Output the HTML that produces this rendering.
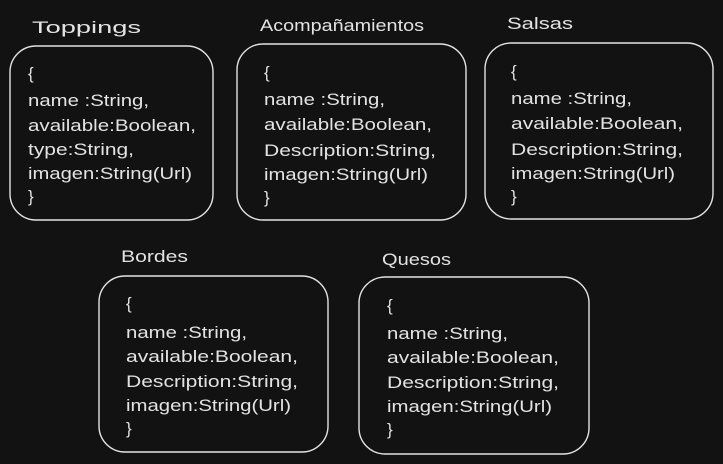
<!DOCTYPE html>
<html><head><meta charset="utf-8"><style>
html,body{margin:0;padding:0;background:#121212;}
svg{display:block}
text{font-family:"Liberation Sans",sans-serif;font-size:17px;fill:#e3e3e3;}
rect{fill:none;stroke:#e3e3e3;stroke-width:1.4;}
</style></head><body>
<svg width="723" height="464" viewBox="0 0 723 464">
<rect width="723" height="464" style="fill:#121212;stroke:none"/>
<!-- Toppings -->
<text x="32" y="33" textLength="109" lengthAdjust="spacingAndGlyphs">Toppings</text>
<rect x="10" y="46" width="203" height="174" rx="26"/>
<text x="28" y="79">{</text>
<text x="28" y="106" textLength="121" lengthAdjust="spacingAndGlyphs">name :String,</text>
<text x="28" y="131" textLength="168" lengthAdjust="spacingAndGlyphs">available:Boolean,</text>
<text x="28" y="155" textLength="106" lengthAdjust="spacingAndGlyphs">type:String,</text>
<text x="28" y="179" textLength="164" lengthAdjust="spacingAndGlyphs">imagen:String(Url)</text>
<text x="28" y="202">}</text>
<!-- Acompañamientos -->
<text x="260" y="31" textLength="164" lengthAdjust="spacingAndGlyphs">Acompañamientos</text>
<rect x="237" y="44" width="229" height="176" rx="26"/>
<text x="264" y="78">{</text>
<text x="264" y="105" textLength="121" lengthAdjust="spacingAndGlyphs">name :String,</text>
<text x="264" y="130" textLength="168" lengthAdjust="spacingAndGlyphs">available:Boolean,</text>
<text x="264" y="156" textLength="172" lengthAdjust="spacingAndGlyphs">Description:String,</text>
<text x="264" y="180" textLength="164" lengthAdjust="spacingAndGlyphs">imagen:String(Url)</text>
<text x="264" y="203">}</text>
<!-- Salsas -->
<text x="507" y="29" textLength="66" lengthAdjust="spacingAndGlyphs">Salsas</text>
<rect x="485" y="43" width="228" height="176" rx="26"/>
<text x="511" y="77">{</text>
<text x="511" y="104" textLength="121" lengthAdjust="spacingAndGlyphs">name :String,</text>
<text x="511" y="129" textLength="172" lengthAdjust="spacingAndGlyphs">available:Boolean,</text>
<text x="511" y="155" textLength="172" lengthAdjust="spacingAndGlyphs">Description:String,</text>
<text x="511" y="179" textLength="164" lengthAdjust="spacingAndGlyphs">imagen:String(Url)</text>
<text x="511" y="202">}</text>
<!-- Bordes -->
<text x="121" y="262" textLength="67" lengthAdjust="spacingAndGlyphs">Bordes</text>
<rect x="99" y="276" width="229" height="176" rx="26"/>
<text x="126" y="309">{</text>
<text x="126" y="338" textLength="121" lengthAdjust="spacingAndGlyphs">name :String,</text>
<text x="126" y="362" textLength="172" lengthAdjust="spacingAndGlyphs">available:Boolean,</text>
<text x="126" y="387" textLength="172" lengthAdjust="spacingAndGlyphs">Description:String,</text>
<text x="126" y="411" textLength="165" lengthAdjust="spacingAndGlyphs">imagen:String(Url)</text>
<text x="126" y="434">}</text>
<!-- Quesos -->
<text x="382" y="265" textLength="69" lengthAdjust="spacingAndGlyphs">Quesos</text>
<rect x="359" y="277" width="230" height="177" rx="26"/>
<text x="387" y="311">{</text>
<text x="387" y="339" textLength="121" lengthAdjust="spacingAndGlyphs">name :String,</text>
<text x="387" y="363" textLength="172" lengthAdjust="spacingAndGlyphs">available:Boolean,</text>
<text x="387" y="388" textLength="172" lengthAdjust="spacingAndGlyphs">Description:String,</text>
<text x="387" y="412" textLength="165" lengthAdjust="spacingAndGlyphs">imagen:String(Url)</text>
<text x="387" y="435">}</text>
</svg>
</body></html>
